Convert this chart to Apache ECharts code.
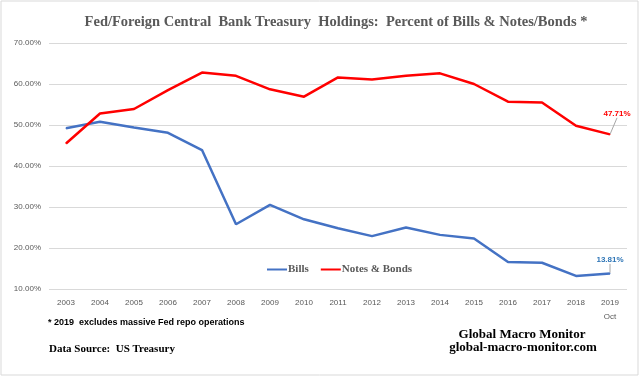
<!DOCTYPE html>
<html>
<head>
<meta charset="utf-8">
<script src="https://cdn.jsdelivr.net/npm/echarts@6/dist/echarts.min.js"></script>
<style>
    html, body { margin: 0; padding: 0; background: #fff; }
    #main { width: 640px; height: 377px; }
</style>
</head>
<body>
<div id="main"></div>
<script>
// 年份（最后一年为10月数据）
var years = ['2003', '2004', '2005', '2006', '2007', '2008', '2009', '2010', '2011',
    '2012', '2013', '2014', '2015', '2016', '2017', '2018', '2019\nOct'];
// 短期国库券占比 %
var bills = [49.2, 50.8, 49.4, 48.1, 43.9, 25.8, 30.5, 27.0, 24.8,
    22.9, 25.0, 23.2, 22.3, 16.6, 16.4, 13.2, 13.81];
// 中长期票据/债券占比 %
var notesBonds = [45.5, 52.8, 53.9, 58.5, 62.8, 62.0, 58.7, 56.9, 61.6,
    61.1, 62.0, 62.6, 60.0, 55.7, 55.5, 49.8, 47.71];
var yTicks = [10, 20, 30, 40, 50, 60, 70];

var grey = '#595959';
var serif = '"Liberation Serif", "Times New Roman", serif';

// 最后一个点带标注
function withEndLabel(arr, color) {
    var out = [];
    for (var i = 0; i < arr.length; i++) {
        if (i == arr.length - 1) {
            out.push({
                value: arr[i],
                label: {
                    show: true,
                    position: 'top',
                    color: color,
                    fontSize: 8,
                    fontWeight: 'bold',
                    fontFamily: '"Liberation Sans", Arial, sans-serif',
                    formatter: function (p) { return p.value.toFixed(2) + '%'; }
                },
                labelLine: { show: true, lineStyle: { color: '#a6a6a6', width: 1 } }
            });
        } else {
            out.push(arr[i]);
        }
    }
    return out;
}

var myChart = echarts.init(document.getElementById('main'));
var option = {
    backgroundColor: '#fff',
    animation: false,
    grid: { left: 49, right: 13, top: 43, bottom: 88 },
    legend: {
        left: 262,
        top: 259,
        icon: 'rect',
        itemWidth: 20,
        itemHeight: 2,
        itemGap: 12,
        textStyle: { fontFamily: serif, fontWeight: 'bold', fontSize: 11, color: grey, padding: [0, 0, 0, -4] },
        data: ['Bills', 'Notes & Bonds']
    },
    xAxis: {
        type: 'category',
        data: years,
        axisLine: { show: false },
        axisTick: { show: false },
        axisLabel: { fontSize: 8, color: grey, margin: 7, lineHeight: 14, fontFamily: '"Liberation Sans", Arial, sans-serif' }
    },
    yAxis: {
        type: 'value',
        min: yTicks[0],
        max: yTicks[yTicks.length - 1],
        interval: 10,
        axisLabel: {
            fontSize: 8, color: grey, margin: 8,
            fontFamily: '"Liberation Sans", Arial, sans-serif',
            formatter: function (v) { return v.toFixed(2) + '%'; }
        },
        splitLine: { lineStyle: { color: '#d9d9d9', width: 1 } }
    },
    series: [
        {
            name: 'Bills',
            type: 'line',
            data: withEndLabel(bills, '#2e75b6'),
            symbol: 'circle',
            symbolSize: 1,
            itemStyle: { color: '#4472c4' },
            lineStyle: { color: '#4472c4', width: 2.5 },
            labelLayout: { dx: 0, dy: -4 }
        },
        {
            name: 'Notes & Bonds',
            type: 'line',
            data: withEndLabel(notesBonds, '#ff0000'),
            symbol: 'circle',
            symbolSize: 1,
            itemStyle: { color: '#ff0000' },
            lineStyle: { color: '#ff0000', width: 2.5 },
            labelLayout: { dx: 7, dy: -11 }
        }
    ],
    graphic: [
        {
            type: 'rect',
            shape: { x: 1, y: 1, width: 637, height: 374 },
            style: { fill: null, stroke: '#d9d9d9', lineWidth: 1 },
            silent: true
        },
        {
            type: 'text', x: 336, y: 15,
            style: { text: 'Fed/Foreign Central  Bank Treasury  Holdings:  Percent of Bills & Notes/Bonds *', textAlign: 'center', font: 'bold 14.5px ' + serif, fill: grey }
        },
        {
            type: 'text', x: 48, y: 318,
            style: { text: '* 2019  excludes massive Fed repo operations', font: 'bold 9px "Liberation Sans Narrow", "Liberation Sans", Arial, sans-serif', fill: '#000' }
        },
        {
            type: 'text', x: 49, y: 344,
            style: { text: 'Data Source:  US Treasury', font: 'bold 11px ' + serif, fill: '#000' }
        },
        {
            type: 'text', x: 522, y: 328,
            style: { text: 'Global Macro Monitor', textAlign: 'center', font: 'bold 13px ' + serif, fill: '#000' }
        },
        {
            type: 'text', x: 523, y: 341,
            style: { text: 'global-macro-monitor.com', textAlign: 'center', font: 'bold 13px ' + serif, fill: '#000' }
        }
    ]
};
myChart.setOption(option);
</script>
</body>
</html>
